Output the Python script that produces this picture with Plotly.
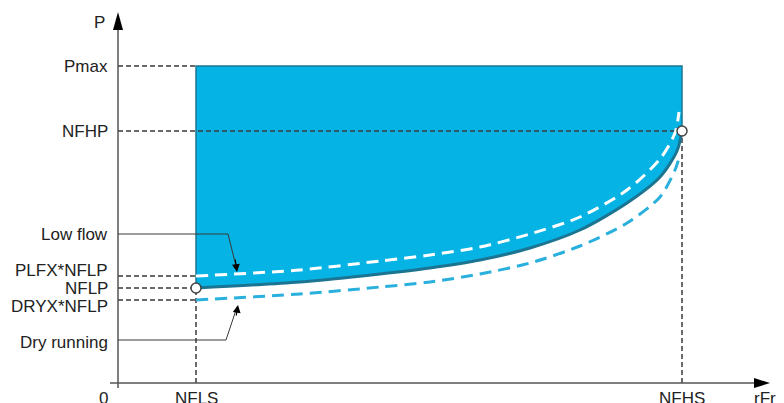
import plotly.graph_objects as go

# Reference values (data units measured from origin)
NFLS = 78
NFHS = 564
PMAX = 317
NFHP = 252
PLFX_NFLP = 107
NFLP = 95
DRYX_NFLP = 83

# NFLP curve (limit curve)
curve_x = [78, 182, 262, 312, 362, 412, 462, 509, 542, 559, 564]
curve_y = [95, 101, 109, 115, 123, 135, 153, 180, 206, 232, 252]
# Low flow curve (PLFX * NFLP)
low_x = [78, 182, 262, 312, 362, 412, 462, 509, 542, 557, 561]
low_y = [107, 113, 122, 128, 136, 149, 166, 193, 224, 250, 271]
# Dry running curve (DRYX * NFLP)
dry_x = [78, 182, 262, 312, 362, 412, 462, 509, 542, 557, 561]
dry_y = [83, 89, 96, 101, 109, 120, 137, 160, 186, 213, 225]

FONT = "Liberation Sans, Arial, sans-serif"
DARK = "#3a3a3a"
FILL = "#05b3e4"
EDGE = "#1b7592"
SM = 0.8

fig = go.Figure()

# filled operating zone: curve, then top edge filled down to it
fig.add_trace(go.Scatter(x=curve_x, y=curve_y, mode="lines",
                         line=dict(color=FILL, width=0, shape="spline", smoothing=SM),
                         hoverinfo="skip"))
fig.add_trace(go.Scatter(x=[NFLS, NFHS], y=[PMAX, PMAX], mode="lines",
                         fill="tonexty", fillcolor=FILL,
                         line=dict(color=EDGE, width=0), hoverinfo="skip"))
# outline of zone
fig.add_trace(go.Scatter(x=[NFLS, NFLS, NFHS, NFHS], y=[NFLP, PMAX, PMAX, NFHP],
                         mode="lines", line=dict(color=EDGE, width=1.5), hoverinfo="skip"))

# dashed reference lines
def dash(x0, y0, x1, y1):
    fig.add_trace(go.Scatter(x=[x0, x1], y=[y0, y1], mode="lines",
                             line=dict(color=DARK, width=1.5, dash="5px,3px"), hoverinfo="skip"))

dash(0, PMAX, NFLS, PMAX)
dash(0, NFHP, NFHS, NFHP)
dash(0, PLFX_NFLP, NFLS, PLFX_NFLP)
dash(0, NFLP, NFLS, NFLP)
dash(0, DRYX_NFLP, NFLS, DRYX_NFLP)
dash(NFLS, 0, NFLS, NFLP)
dash(NFHS, 0, NFHS, NFHP)

# curves
fig.add_trace(go.Scatter(x=dry_x, y=dry_y, mode="lines",
                         line=dict(color="#2ab0dd", width=3, dash="12px,7px", shape="spline", smoothing=SM),
                         hoverinfo="skip"))
fig.add_trace(go.Scatter(x=curve_x, y=curve_y, mode="lines",
                         line=dict(color=EDGE, width=3, shape="spline", smoothing=SM), hoverinfo="skip"))
fig.add_trace(go.Scatter(x=low_x, y=low_y, mode="lines",
                         line=dict(color="white", width=3, dash="12px,7px", shape="spline", smoothing=SM),
                         hoverinfo="skip"))

# axes
fig.add_trace(go.Scatter(x=[0, 0], y=[-5, 355], mode="lines",
                         line=dict(color="#555555", width=1.5), hoverinfo="skip"))
fig.add_trace(go.Scatter(x=[-8, 640], y=[0, 0], mode="lines",
                         line=dict(color="#555555", width=1.5), hoverinfo="skip"))
fig.add_shape(type="path", path="M -5,353 L 5,353 L 0,371 Z",
              fillcolor="black", line=dict(color="black", width=0))
fig.add_shape(type="path", path="M 636,-5 L 636,5 L 652,0 Z",
              fillcolor="black", line=dict(color="black", width=0))

# leader lines
fig.add_trace(go.Scatter(x=[0, 110, 119], y=[149, 149, 113], mode="lines",
                         line=dict(color=DARK, width=1), hoverinfo="skip"))
fig.add_trace(go.Scatter(x=[0, 108, 119], y=[43, 43, 76], mode="lines",
                         line=dict(color=DARK, width=1), hoverinfo="skip"))
fig.add_annotation(x=119, y=111, ax=117, ay=125, xref="x", yref="y", axref="x", ayref="y",
                   showarrow=True, arrowhead=2, arrowsize=1.3, arrowwidth=1.2, arrowcolor="black", text="")
fig.add_annotation(x=120, y=78, ax=118, ay=66, xref="x", yref="y", axref="x", ayref="y",
                   showarrow=True, arrowhead=2, arrowsize=1.3, arrowwidth=1.2, arrowcolor="black", text="")

# marker circles
fig.add_trace(go.Scatter(x=[NFLS, NFHS], y=[NFLP, NFHP], mode="markers",
                         marker=dict(size=10, color="white", line=dict(color="#444444", width=1.5)),
                         hoverinfo="skip"))

# labels
labels = [("P", 361, -11), ("Pmax", PMAX, -8), ("NFHP", NFHP, -8), ("Low flow", 149, -8),
          ("PLFX*NFLP", 113, -8), ("NFLP", 95, -8), ("DRYX*NFLP", 77, -8), ("Dry running", 41, -8)]
for t, y, x in labels:
    fig.add_annotation(x=x, y=y, text=t, showarrow=False, xanchor="right", yanchor="middle",
                       font=dict(family=FONT, size=17, color="#222222"))
for t, x in [("0", -15), ("NFLS", NFLS), ("NFHS", NFHS), ("rFr", 647)]:
    fig.add_annotation(x=x, y=-15, text=t, showarrow=False, xanchor="center", yanchor="middle",
                       font=dict(family=FONT, size=17, color="#222222"))

# the page body adds an 8px offset; shift ranges so the origin lands at (118, 383)
fig.update_layout(
    width=784, height=403, margin=dict(l=0, r=0, t=0, b=0),
    paper_bgcolor="white", plot_bgcolor="white", showlegend=False,
    xaxis=dict(range=[-110, 674], visible=False, fixedrange=True),
    yaxis=dict(range=[-28, 375], visible=False, fixedrange=True),
)
fig.write_html("out.html")
